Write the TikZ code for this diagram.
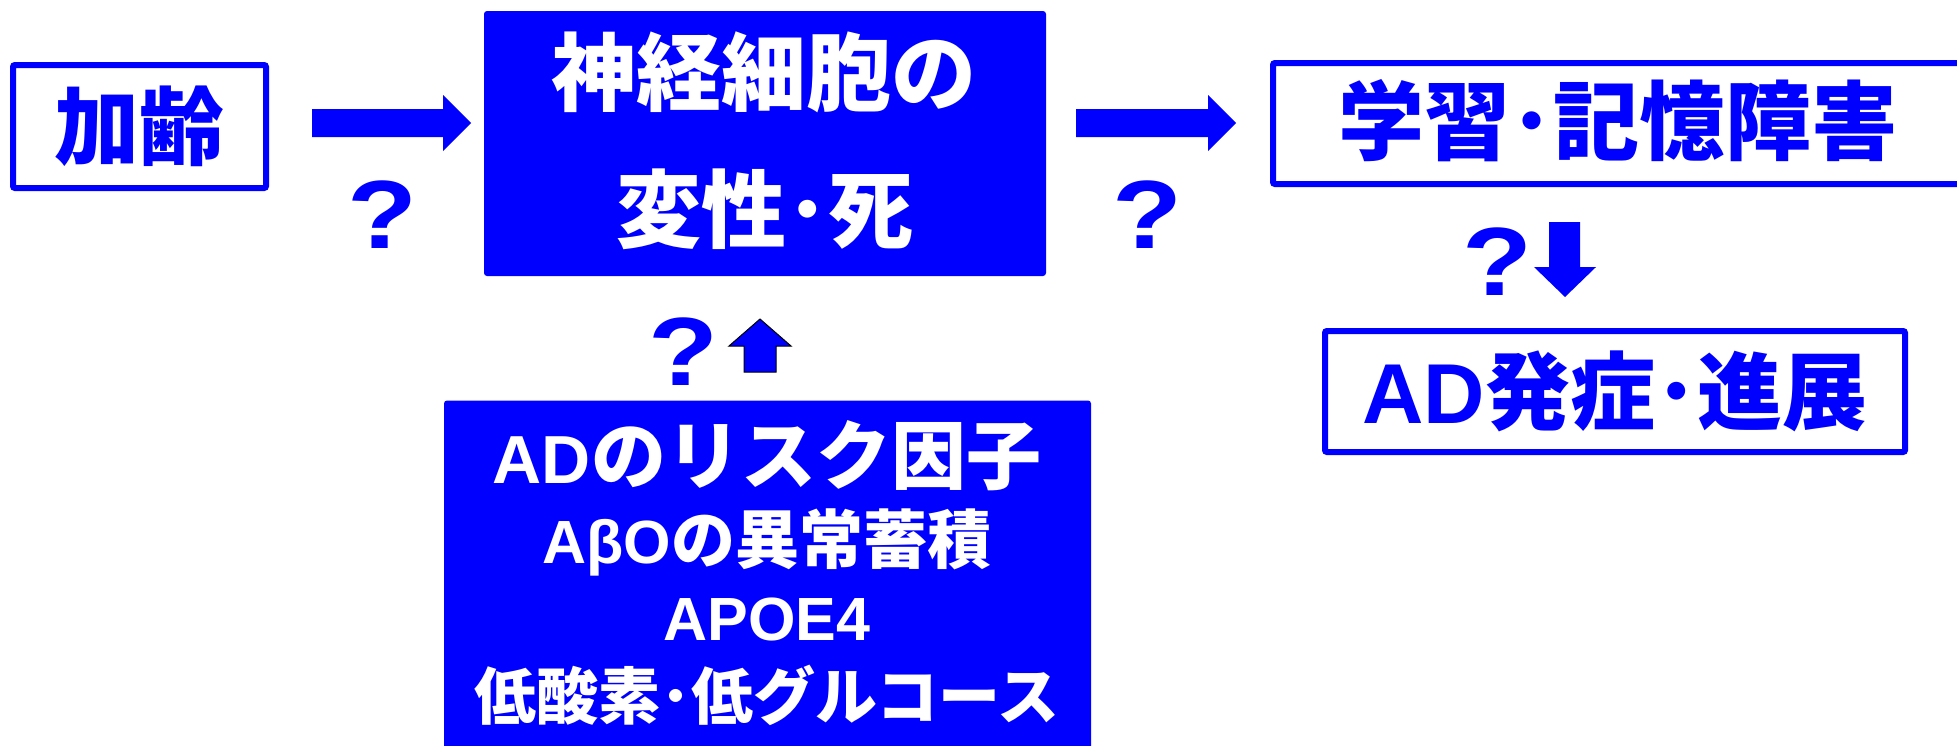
\documentclass[tikz,border=0pt]{standalone}
\usepackage{graphicx}
\usepackage{fontspec}
\setmainfont{Liberation Sans}
\newfontfamily\cj{Noto Sans CJK JP}
\newfontfamily\lat{Liberation Sans}
\definecolor{pblue}{RGB}{0,0,255}
\newcommand{\fsz}[1]{\fontsize{#1}{#1}\selectfont}
\newcommand{\qm}{\scalebox{1.18}[1]{?}}
\begin{document}
\begin{tikzpicture}[x=1pt,y=-1pt,
  outbox/.style={draw=pblue, line width=6pt, fill=white, rounded corners=2pt, inner sep=0pt},
  fillbox/.style={fill=pblue, rounded corners=3pt, inner sep=0pt},
  btxt/.style={text=pblue, inner sep=0pt},
  wtxt/.style={text=white, inner sep=0pt},
  qmark/.style={text=pblue, inner sep=0pt, font=\lat\bfseries\fsz{97}},
  barrow/.style={fill=pblue}]
\useasboundingbox (0,0) rectangle (1957,745);
\clip (0,0) rectangle (1957,745);
\fill[white] (0,0) rectangle (1957,745);
% boxes
\node[outbox, minimum width=253pt, minimum height=123pt, text=pblue, font=\cj\bfseries\fsz{85}] (aging) at (139.5,126.5) {加齢};
\node[fillbox, minimum width=562pt, minimum height=265pt] (neuro) at (765,143.5) {};
\node[wtxt, font=\cj\bfseries\fsz{85}] (n1) at (764,72) {神経細胞の};
\node[wtxt, font=\cj\bfseries\fsz{85}] (n2) at (765,209) {変性･死};
\node[outbox, minimum width=734pt, minimum height=121pt] (learn) at (1640,123.5) {};
\node[btxt, font=\cj\bfseries\fsz{86}] (l1) at (1618,121) {学習･記憶障害};
\node[outbox, minimum width=580pt, minimum height=121pt, text=pblue, font=\cj\bfseries\fsz{85}] (onset) at (1615,391.5) {{\lat\bfseries AD}発症･進展};
\node[fillbox, minimum width=647pt, minimum height=359pt] (risk) at (767.5,580) {};
\node[wtxt, font=\cj\bfseries\fsz{75}] (r1) at (767,456) {{\lat\bfseries\fsz{68}AD}のリスク因子};
\node[wtxt, font=\cj\bfseries\fsz{64}] (r2) at (767,542) {{\lat\bfseries\fsz{61}AβO}の異常蓄積};
\node[wtxt, font=\lat\bfseries\fsz{61}] (r3) at (767,619) {APOE4};
\node[wtxt, font=\cj\bfseries\fsz{62}] (r4) at (767,695) {低酸素･低グルコース};
% question marks
\node[qmark] (q1) at (382,215) {\qm};
\node[qmark] (q2) at (1147,215) {\qm};
\node[qmark] (q3) at (1497,262) {\qm};
\node[qmark] (q4) at (683,352) {\qm};
% block arrows
\fill[barrow] (312,109) -- (443,109) -- (443,95) -- (471,123) -- (443,151) -- (443,137) -- (312,137) -- cycle;
\fill[barrow] (1076,109) -- (1208,109) -- (1208,95) -- (1236,123) -- (1208,151) -- (1208,137) -- (1076,137) -- cycle;
\fill[barrow] (1549,222) -- (1580,222) -- (1580,267) -- (1596,267) -- (1565,297) -- (1534,267) -- (1549,267) -- cycle;
\filldraw[fill=pblue, draw=black, line width=1pt] (744,372) -- (744,346) -- (729,346) -- (760,319) -- (791,346) -- (776,346) -- (776,372) -- cycle;
\end{tikzpicture}
\end{document}
